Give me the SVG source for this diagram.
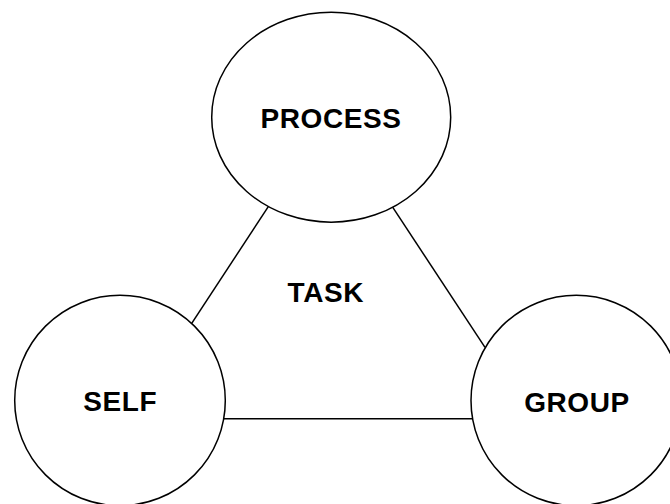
<svg xmlns="http://www.w3.org/2000/svg" width="670" height="504" viewBox="0 0 670 504">
<style>
.node{fill:#fff;stroke:#000;stroke-width:1.5}
.edge{stroke:#000;stroke-width:1.5;fill:none}
.lbl{font-family:"Liberation Sans",Arial,sans-serif;font-weight:bold;font-size:28px;letter-spacing:0.6px;fill:#000;text-anchor:middle}
</style>
<rect width="670" height="504" fill="#fff"/>
<g id="connectors">
<line class="edge" x1="191.7" y1="323.3" x2="268.3" y2="206.7"/>
<line class="edge" x1="392.3" y1="206.7" x2="485" y2="347.3"/>
<line class="edge" x1="224" y1="418.7" x2="472.7" y2="418.7"/>
</g>
<g id="process">
<ellipse class="node" cx="331.2" cy="117.2" rx="119.5" ry="105"/>
<text class="lbl" x="331" y="127.7">PROCESS</text>
</g>
<g id="self">
<ellipse class="node" cx="120" cy="400.5" rx="105.3" ry="105.2"/>
<text class="lbl" x="120.3" y="410.7">SELF</text>
</g>
<g id="group">
<ellipse class="node" cx="576.3" cy="400.5" rx="105.3" ry="105.2"/>
<text class="lbl" x="577" y="411.7">GROUP</text>
</g>
<g id="task">
<text class="lbl" x="325.8" y="301.7">TASK</text>
</g>
</svg>
